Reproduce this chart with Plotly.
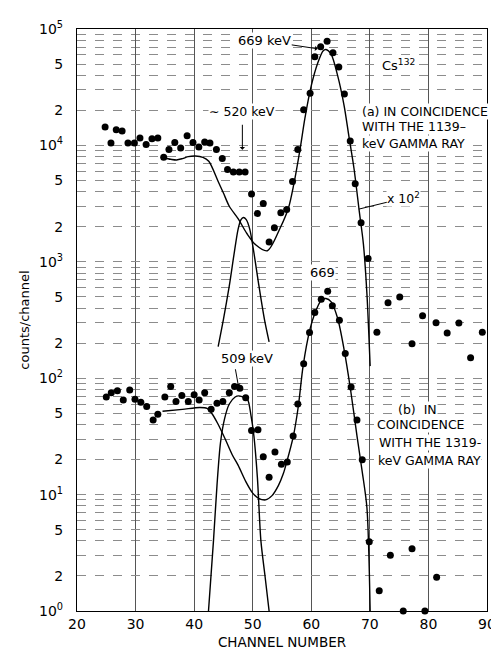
import plotly.graph_objects as go

# ---------------- data ----------------
# (a) in coincidence with the 1139-keV gamma ray (x 10^2 scale)
a_channel = [24.8, 25.8, 26.7, 27.7, 28.7, 29.8, 30.75, 31.8, 32.8, 33.8, 34.8, 35.7, 36.7,
             37.7, 38.8, 39.8, 40.8, 41.8, 42.7, 43.8, 44.8, 45.7, 46.7, 47.7, 48.7, 49.8,
             50.8, 51.8, 52.8, 53.7, 54.8, 55.8, 56.8, 57.7, 58.7, 59.8, 60.6, 61.6, 62.7,
             63.7, 64.7, 65.65, 66.65, 67.5, 68.5, 69.7, 71.2, 73.1, 75.1, 77.2, 79.0, 81.3,
             83.2, 85.2, 87.2, 89.2]
a_counts = [14400, 10500, 13600, 13300, 10500, 10500, 11600, 10200, 11400, 11600, 7900, 9200,
            10600, 9500, 12100, 10600, 9700, 10700, 10500, 9200, 7700, 6200, 5900, 5900, 5900,
            3820, 2600, 3170, 1480, 1960, 2640, 2820, 4900, 9200, 20200, 28000, 57800, 70300,
            78500, 62500, 47200, 27600, 10900, 4690, 2170, 1070, 248, 444, 499, 198, 344, 300,
            245, 298, 150, 248]

# drawn fit curve for (a)
fit_a_channel = [34.8, 36, 37, 38, 39, 40.2, 41.5, 42.5, 44.1, 45, 46, 47.5, 49, 50.5, 52.5,
                 54.7, 56.1, 57, 58.1, 58.9, 60, 61.1, 62, 62.5, 63.4, 64.5, 65.6, 66.4, 67.3,
                 68.2, 68.9, 69.5, 70.05]
fit_a_counts = [7800, 7600, 7500, 7700, 8000, 8100, 7900, 7300, 4900, 3900, 3000, 2350, 1750,
                1400, 1245, 1960, 2900, 4600, 9400, 17000, 32600, 51000, 64800, 66700, 60600,
                39700, 22000, 12200, 6300, 2700, 1420, 530, 127]

# ~520 keV component of (a)
peak520_channel = [44.1, 45, 46, 46.8, 47.5, 48, 48.4, 48.9, 49.5, 50.2, 51, 52, 52.8]
peak520_counts = [187, 320, 620, 1150, 1900, 2300, 2400, 2300, 1900, 1200, 650, 320, 205]

# (b) in coincidence with the 1319-keV gamma ray
b_channel = [25.0, 25.85, 26.9, 27.9, 29.0, 29.9, 30.9, 31.9, 33.0, 33.8, 35.0, 36.0, 36.9,
             37.9, 39.0, 40.0, 40.85, 41.8, 42.9, 43.9, 44.9, 46.0, 46.9, 47.8, 48.8, 49.8,
             50.9, 51.8, 52.8, 53.8, 54.9, 55.9, 56.9, 57.7, 58.7, 59.7, 60.6, 61.7, 62.8,
             63.6, 64.8, 65.8, 66.8, 67.8, 68.7, 69.9, 71.6, 73.5, 75.7, 77.2, 79.4, 81.4]
b_counts = [69, 75, 78, 65, 79, 66, 62, 57, 43.8, 49, 69, 85, 63, 71, 63, 72, 65, 75, 54, 61,
            63, 75, 85, 82, 68, 35.5, 36, 21.1, 14.1, 23.2, 18.2, 19.1, 31.8, 60, 133, 247,
            367, 477, 558, 419, 314, 163, 84, 43.8, 19.9, 3.94, 1.49, 3.01, 1.0, 3.43, 1.0,
            1.95]

fit_b_channel = [34.6, 38, 41, 42.2, 43, 44, 45.3, 46.5, 47.5, 48.8, 50, 51, 52.2, 53.3, 54.4,
                 55.2, 55.8, 56.95, 57.8, 58.6, 59.75, 60.6, 61.7, 62.5, 63.4, 64.5, 65.6,
                 66.7, 67.8, 68.7, 69.5, 70.05]
fit_b_counts = [52, 54, 56, 55, 50, 41, 30, 22, 17.9, 13, 10.3, 9.3, 9.0, 9.8, 12, 15, 19, 32,
                58, 127, 260, 360, 468, 484, 453, 327, 176, 80, 32, 15.7, 7.7, 1.0]

# 509 keV component of (b)
peak509_channel = [42.45, 43.3, 43.9, 44.5, 45.2, 46, 47, 47.6, 48.3, 49.1, 49.7, 50.2, 50.8,
                   51.4, 52.1, 52.8]
peak509_counts = [1.0, 4, 12, 28, 45, 60, 69, 70.5, 69, 66, 48, 32, 14, 4, 2, 1.0]

x_ticks = [20, 30, 40, 50, 60, 70, 80, 90]
decades = [0, 1, 2, 3, 4]

# ---------------- figure ----------------
FONT = "DejaVu Sans"
L, R, T, B = 69, 488, 16, 604


def X(px):
    return 20 + (px - L) / (R - L) * 70


def Y(py):
    return 5 * (B - py) / (B - T)


major_vals, major_text, minor_vals = [], [], []
for d in decades:
    for m in range(1, 10):
        v = m * 10 ** d
        if m == 1:
            major_vals.append(v)
            major_text.append("10<sup>%d</sup>" % d)
        elif m in (2, 5):
            major_vals.append(v)
            major_text.append(str(m))
        else:
            minor_vals.append(v)
major_vals.append(10 ** 5)
major_text.append("10<sup>5</sup>")

fig = go.Figure()
line_style = dict(color="black", width=1.4, shape="spline", smoothing=0.8)
for cx, cy in [(fit_a_channel, fit_a_counts), (peak520_channel, peak520_counts),
               (fit_b_channel, fit_b_counts), (peak509_channel, peak509_counts)]:
    fig.add_trace(go.Scatter(x=cx, y=cy, mode="lines", line=line_style,
                             hoverinfo="skip", cliponaxis=True))
for cx, cy in [(a_channel, a_counts), (b_channel, b_counts)]:
    fig.add_trace(go.Scatter(x=cx, y=cy, mode="markers",
                             marker=dict(color="black", size=7), cliponaxis=False))

ann = []


def text(px, py, s, anchor="center", size=12.5, to=None, head=1, standoff=0):
    a = dict(x=X(px), y=Y(py), xref="x", yref="y", text=s, showarrow=False,
             xanchor=anchor, yanchor="middle", bgcolor="white", borderpad=0,
             font=dict(family=FONT, size=size, color="black"))
    if to is not None:
        a.update(x=X(to[0]), y=Y(to[1]), showarrow=True, ax=px - to[0], ay=py - to[1],
                 arrowhead=head, arrowsize=0.9, arrowwidth=1, arrowcolor="black",
                 startstandoff=standoff)
        a.pop("xanchor")
        a.pop("yanchor")
    ann.append(a)


text(262, 28, "669 keV", to=(315, 36), size=13)
text(398, 52, "Cs<sup>132</sup>", size=13)
text(238, 100, "∼ 520 keV", to=(238, 138), standoff=5)
text(359, 99, "(a) IN COINCIDENCE", anchor="left")
text(359, 115, "WITH THE 1139–", anchor="left")
text(359, 132, "keV GAMMA RAY", anchor="left")
text(402, 187, "x 10<sup>2</sup>", to=(357, 198), head=0)
text(320, 262, "669", size=13)
text(229, 349, "509", to=(234, 377), standoff=3, size=13)
text(257, 349, "keV", size=13)
text(417, 400, "(b)  IN")
text(421, 416, "COINCIDENCE")
text(430, 434, "WITH THE 1319-")
text(429, 452, "keV GAMMA RAY")

grid_h = dict(gridcolor="#8c8c8c", gridwidth=0.8, griddash="dash")
fig.update_layout(
    width=499, height=650,
    margin=dict(l=L, r=499 - R, t=T, b=650 - B),
    paper_bgcolor="white", plot_bgcolor="white",
    showlegend=False,
    font=dict(family=FONT, size=14, color="black"),
    annotations=ann,
    xaxis=dict(range=[20, 90], tickmode="array", tickvals=x_ticks,
               ticktext=[str(v) for v in x_ticks],
               showgrid=True, gridcolor="#555", gridwidth=0.9,
               showline=True, mirror=True, linecolor="black", linewidth=1.2,
               ticks="", zeroline=False,
               tickfont=dict(family=FONT, size=14),
               title=dict(text="CHANNEL NUMBER", font=dict(family=FONT, size=13.5), standoff=6)),
    yaxis=dict(type="log", range=[0, 5], tickmode="array", tickvals=major_vals,
               ticktext=major_text, showgrid=True, **grid_h,
               minor=dict(tickmode="array", tickvals=minor_vals, showgrid=True,
                          ticks="", **grid_h),
               showline=True, mirror=True, linecolor="black", linewidth=1.2,
               ticks="", zeroline=False, ticklabelstandoff=10,
               tickfont=dict(family=FONT, size=14),
               title=dict(text="counts/channel", font=dict(family=FONT, size=13), standoff=6)),
)

fig.write_html("out.html")
